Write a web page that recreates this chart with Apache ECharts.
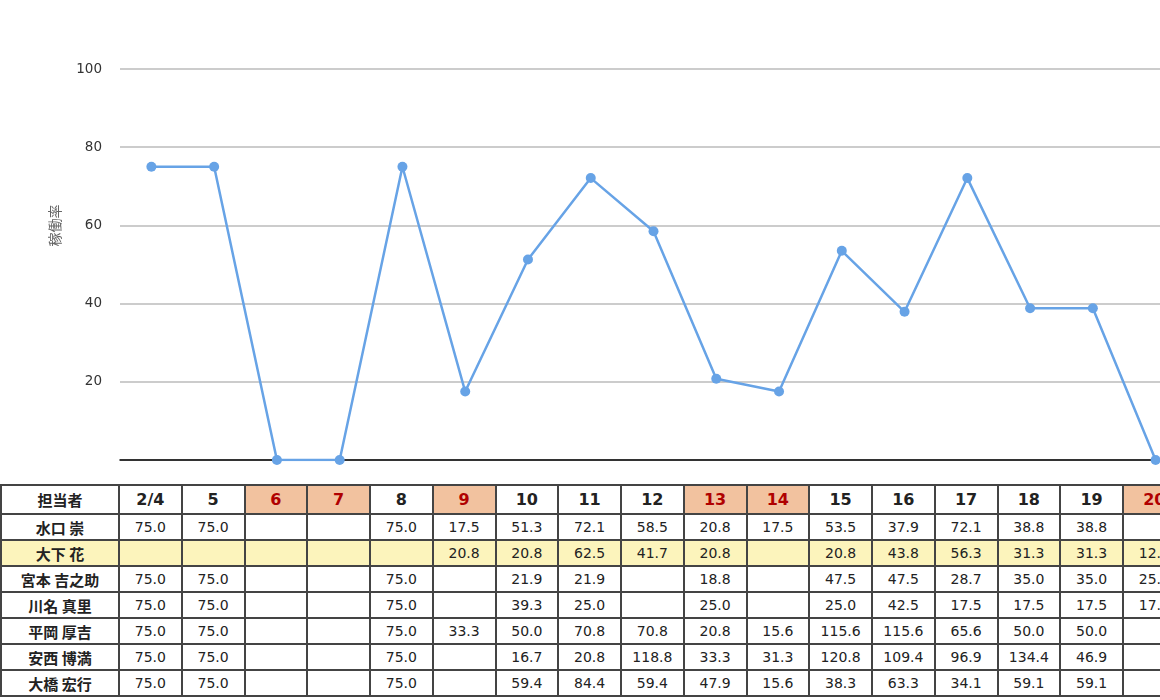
<!DOCTYPE html>
<html>
<head>
<meta charset="utf-8">
<script src="https://cdn.jsdelivr.net/npm/echarts@6/dist/echarts.min.js"></script>
<style>
body {
    margin: 0;
    overflow: hidden;
    background: #fff;
    width: 1200px;
}
#chart {
    width: 1190px;
    height: 480px;
}
.rate-table {
    margin-top: 4px;
    width: 1185px;
    border-collapse: collapse;
    table-layout: fixed;
    font-family: "DejaVu Sans", Verdana, sans-serif;
    font-size: 14px;
    color: #222;
}
.rate-table td, .rate-table th {
    border: 2px solid #444;
    text-align: center;
    padding: 0;
    height: 24px;
    overflow: hidden;
    white-space: nowrap;
}
.rate-table th {
    height: 27px;
    font-size: 16px;
    font-weight: bold;
}
.rate-table .name {
    font-family: "Noto Sans CJK JP", sans-serif;
    font-weight: bold;
    font-size: 15px;
}
.rate-table .holiday {
    background: #f2c29f;
    color: #b00000;
}
.rate-table tr.mark td {
    background: #fcf4bc;
}
</style>
</head>
<body>
<div id="chart"></div>
<table class="rate-table" id="rateTable"></table>
<script>
// 日付と休日
const days = ['2/4', '5', '6', '7', '8', '9', '10', '11', '12', '13', '14', '15', '16', '17', '18', '19', '20']
const holidays = ['6', '7', '9', '13', '14', '20']

// グラフ: 稼働率
const rateValues = [75.0, 75.0, 0, 0, 75.0, 17.5, 51.3, 72.1, 58.5, 20.8, 17.5, 53.5, 37.9, 72.1, 38.8, 38.8, 0]
const yTicks = [0, 20, 40, 60, 80, 100]

// 表
const names = ['水口 崇', '大下 花', '宮本 吉之助', '川名 真里', '平岡 厚吉', '安西 博満', '大橋 宏行']
const row0 = ['75.0', '75.0', '', '', '75.0', '17.5', '51.3', '72.1', '58.5', '20.8', '17.5', '53.5', '37.9', '72.1', '38.8', '38.8', '']
const row1 = ['', '', '', '', '', '20.8', '20.8', '62.5', '41.7', '20.8', '', '20.8', '43.8', '56.3', '31.3', '31.3', '12.5']
const row2 = ['75.0', '75.0', '', '', '75.0', '', '21.9', '21.9', '', '18.8', '', '47.5', '47.5', '28.7', '35.0', '35.0', '25.0']
const row3 = ['75.0', '75.0', '', '', '75.0', '', '39.3', '25.0', '', '25.0', '', '25.0', '42.5', '17.5', '17.5', '17.5', '17.5']
const row4 = ['75.0', '75.0', '', '', '75.0', '33.3', '50.0', '70.8', '70.8', '20.8', '15.6', '115.6', '115.6', '65.6', '50.0', '50.0', '']
const row5 = ['75.0', '75.0', '', '', '75.0', '', '16.7', '20.8', '118.8', '33.3', '31.3', '120.8', '109.4', '96.9', '134.4', '46.9', '']
const row6 = ['75.0', '75.0', '', '', '75.0', '', '59.4', '84.4', '59.4', '47.9', '15.6', '38.3', '63.3', '34.1', '59.1', '59.1', '']
const rows = [row0, row1, row2, row3, row4, row5, row6]
const markedRow = 1

let dom = echarts.init(document.getElementById('chart'))
let option = {
    animation: false,
    grid: {
        left: 120,
        right: 3,
        top: 69,
        bottom: 20
    },
    xAxis: {
        type: 'category',
        data: days,
        boundaryGap: true,
        axisLine: {
            lineStyle: {
                color: '#000',
                width: 1.5
            }
        },
        axisTick: { show: false },
        axisLabel: { show: false }
    },
    yAxis: {
        type: 'value',
        min: yTicks[0],
        max: yTicks[yTicks.length - 1],
        interval: 20,
        name: '稼働率',
        nameLocation: 'middle',
        nameGap: 58,
        nameTextStyle: {
            color: '#666',
            fontSize: 14,
            fontFamily: 'Noto Sans CJK JP',
            padding: [0, 0, 0, 78]
        },
        axisLine: { show: false },
        axisTick: { show: false },
        axisLabel: {
            color: '#333',
            fontSize: 13.5,
            fontFamily: 'DejaVu Sans',
            margin: 18,
            formatter: function (v) {
                return v === 0 ? '' : String(v)
            }
        },
        splitLine: {
            lineStyle: {
                color: '#bbb',
                width: 1.5
            }
        }
    },
    series: [
        {
            type: 'line',
            name: '稼働率',
            data: rateValues,
            symbol: 'circle',
            symbolSize: 10,
            itemStyle: { color: '#67a3e6' },
            lineStyle: { color: '#67a3e6', width: 2.5 }
        }
    ]
}
dom.setOption(option)

// 表の組み立て
let table = document.getElementById('rateTable')
let html = '<colgroup><col style="width:118px">'
for (let i = 0; i < days.length; i++) {
    html += '<col style="width:62.75px">'
}
html += '</colgroup><tr><th class="name">担当者</th>'
days.forEach(d => {
    html += `<th class="${holidays.includes(d) ? 'holiday' : ''}">${d}</th>`
})
html += '</tr>'
rows.forEach((r, i) => {
    html += `<tr class="${i === markedRow ? 'mark' : ''}"><td class="name">${names[i]}</td>`
    r.forEach(v => {
        html += `<td>${v}</td>`
    })
    html += '</tr>'
})
table.innerHTML = html
</script>
</body>
</html>
